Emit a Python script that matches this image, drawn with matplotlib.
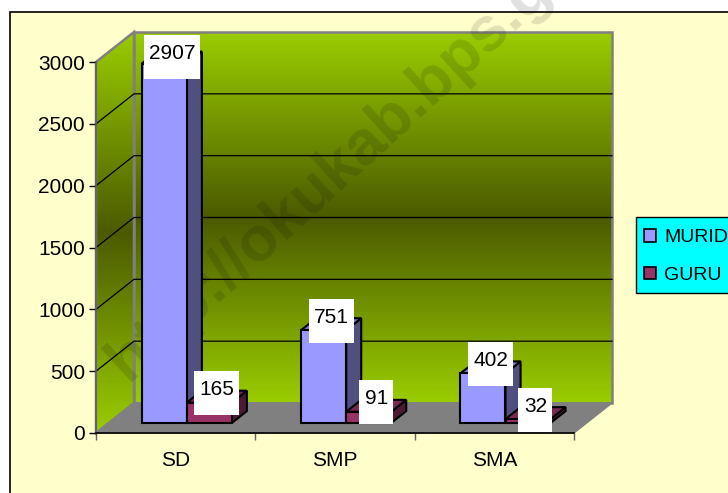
import numpy as np
import matplotlib
matplotlib.use('Agg')
import matplotlib.pyplot as plt
from matplotlib.patches import Polygon, Rectangle

plt.rcParams['font.family'] = ['Liberation Sans', 'DejaVu Sans']

kategori = ['SD', 'SMP', 'SMA']
murid = [2907, 751, 402]
guru = [165, 91, 32]
yticks = [0, 500, 1000, 1500, 2000, 2500, 3000]

W, H = 728, 493
fig = plt.figure(figsize=(W / 100, H / 100), dpi=100, facecolor='white')

# background panel, in pixels
bg = fig.add_axes([0, 0, 1, 1])
bg.axis('off')
bg.add_patch(Rectangle((10, 12), W, H, fc='#FFFFCC', ec='black', lw=1.2))
bg.add_patch(Rectangle((636, 217), W, 76, fc='#00FFFF', ec='black', lw=1))

# front plane of the 3d box
L, R, T, B = 96, 574, 62, 433
ax = fig.add_axes([L / W, 1 - B / H, (R - L) / W, (B - T) / H])
ax.set_xlim(0, 3)
ax.set_ylim(0, 3000)
ax.patch.set_visible(False)

sx = 3 / (R - L)
sy = 3000 / (B - T)
DX, DY = 38 * sx, 30 * sy


def shift(x, y, d):
    return (x + d * DX, y + d * DY)


def topx(p):
    return (L + p[0] / sx, B - p[1] / sy)


def gradasi(poly):
    # images are clipped to their own axes, so the walls go on the full figure one
    warna = np.array([[154, 205, 0], [75, 90, 0], [154, 205, 0]]) / 255
    t = np.linspace(0, 1, 256)
    img = np.stack([np.interp(t, [0, .5, 1], warna[:, i]) for i in range(3)], axis=1)[:, None, :]
    pts = [topx(p) for p in poly]
    xs = [p[0] for p in pts]
    ys = [p[1] for p in pts]
    im = bg.imshow(img, extent=[min(xs), max(xs), max(ys), min(ys)], aspect='auto', zorder=1)
    patch = Polygon(pts, closed=True, fc='none', ec='#808080', lw=1.8, zorder=2)
    bg.add_patch(patch)
    im.set_clip_path(patch)


# walls and floor
belakang = [shift(0, 0, 1), shift(3, 0, 1), shift(3, 3000, 1), shift(0, 3000, 1)]
samping = [(0, 0), shift(0, 0, 1), shift(0, 3000, 1), (0, 3000)]
gradasi(belakang)
gradasi(samping)
bg.set_xlim(0, W)
bg.set_ylim(H, 0)
ax.add_patch(Polygon([(0, 0), (3, 0), shift(3, 0, 1), shift(0, 0, 1)], fc='#808080', ec='#808080', zorder=2, clip_on=False))
for v in yticks[1:-1]:
    ax.plot(*zip((0, v), shift(0, v, 1), shift(3, v, 1)), color='black', lw=0.9, zorder=3, clip_on=False)
ax.set_xlim(0, 3)
ax.set_ylim(0, 3000)


def batang(x0, w, v, warna, sisi, atas, z):
    d0, d1 = 1 / 3, 0.73
    a = shift(x0, 0, d0)
    b = shift(x0 + w, v, d0)
    kw = dict(ec='black', lw=1.5, zorder=z, clip_on=False, joinstyle='miter')
    ax.add_patch(Polygon([(b[0], a[1]), shift(x0 + w, 0, d1), shift(x0 + w, v, d1), b], fc=sisi, **kw))
    ax.add_patch(Polygon([(a[0], b[1]), b, shift(x0 + w, v, d1), shift(x0, v, d1)], fc=atas, **kw))
    ax.add_patch(Rectangle(a, b[0] - a[0], b[1] - a[1], fc=warna, **kw))


def label(x0, w, v):
    # white box above the bar, kept inside the box top
    txt = str(v)
    bw, bh = (11 * len(txt) + 12) * sx, 44 * sy
    cx = shift(x0 + w / 2, 0, 1 / 3)[0] + 7.5 * sx
    cy = min(shift(0, v, 1 / 3)[1] + 9.5 * sy, 3040)
    ax.add_patch(Rectangle((cx - bw / 2, cy - bh / 2), bw, bh, fc='white', ec='none', zorder=20, clip_on=False))
    ax.text(cx, cy + 3.5 * sy, txt, ha='center', va='center', fontsize=15, zorder=21, clip_on=False)


lebar = 45 * sx
for i in range(len(kategori)):
    x0 = i + 0.5 - lebar - 1.5 * sx
    batang(x0, lebar, murid[i], '#9999FF', '#4F4F80', '#7A7ACC', 6 + i)
    batang(x0 + lebar, lebar, guru[i], '#993366', '#4D1A33', '#7A2952', 7 + i)
for i in range(len(kategori)):
    x0 = i + 0.5 - lebar - 1.5 * sx
    label(x0, lebar, murid[i])
    label(x0 + lebar, lebar, guru[i])

# axes
for s in ['top', 'right']:
    ax.spines[s].set_visible(False)
ax.spines['left'].set_color('#606060')
ax.spines['left'].set_linewidth(1.2)
ax.spines['bottom'].set_color('black')
ax.spines['bottom'].set_linewidth(1.2)
ax.spines['left'].set_zorder(5)
ax.spines['bottom'].set_zorder(5)
ax.set_yticks(yticks)
ax.set_xticks([0, 1, 2, 3])
ax.set_xticklabels([])
ax.set_xticks([0.5, 1.5, 2.5], kategori, minor=True)
ax.tick_params(axis='y', length=5, width=1, labelsize=15, pad=3)
ax.tick_params(axis='x', which='major', length=5, width=1, color='#606060')
ax.tick_params(axis='x', which='minor', length=0, labelsize=15, pad=13)

# legend
h = [Rectangle((0, 0), 1, 1, fc='#9999FF', ec='black', lw=1.2),
     Rectangle((0, 0), 1, 1, fc='#993366', ec='black', lw=1.2)]
leg = fig.legend(h, ['MURID', 'GURU'], loc='upper left', bbox_to_anchor=(636 / W, 1 - 221 / H),
                 fontsize=14, frameon=False,
                 handlelength=0.62, handleheight=0.62, handletextpad=0.4, labelspacing=1.05,
                 borderpad=0.42, borderaxespad=0)

# watermark sits on the walls, behind the bars
ax.text((128 - L) * sx, (B - 382) * sy, 'http://okukab.bps.go.id', rotation=42.5, rotation_mode='anchor',
        ha='left', va='baseline', fontsize=45, fontweight='bold', color='black', alpha=0.12,
        zorder=4, clip_on=False)

fig.savefig('out.png', dpi=100, facecolor='white')
